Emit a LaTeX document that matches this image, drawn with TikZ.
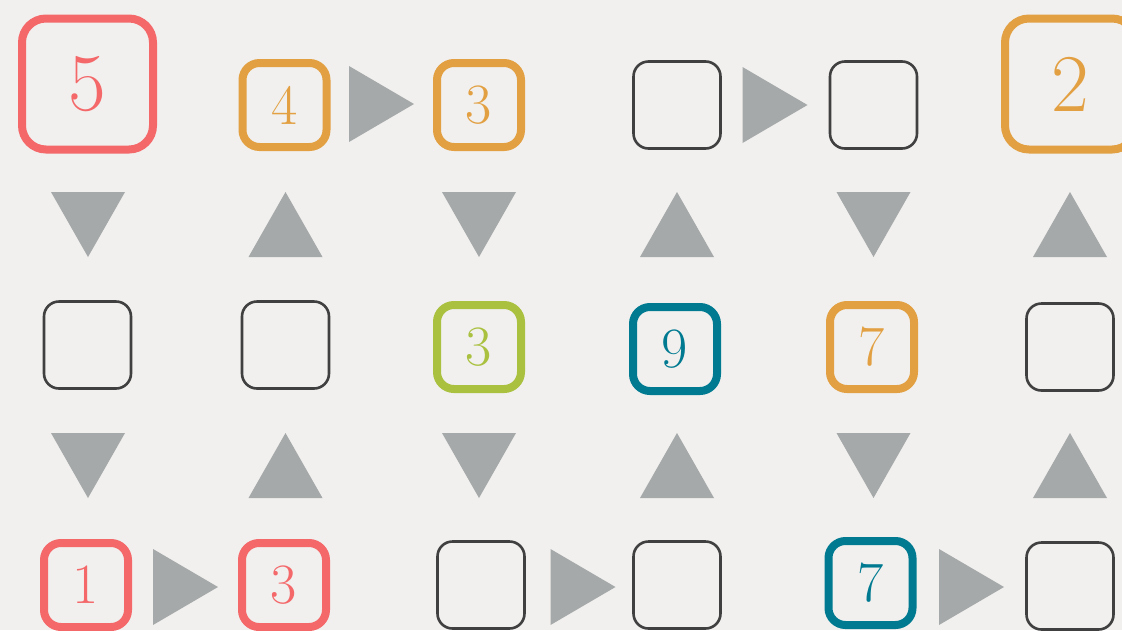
\documentclass[tikz,border=0pt]{standalone}
\definecolor{bg}{HTML}{F1F0EE}
\definecolor{cred}{HTML}{F4686A}
\definecolor{corange}{HTML}{E2A042}
\definecolor{cgreen}{HTML}{A9C13F}
\definecolor{cteal}{HTML}{007A91}
\definecolor{cgrey}{HTML}{A5A9A9}
\definecolor{cdark}{HTML}{404040}
\begin{document}
\begin{tikzpicture}[x=1pt,y=-1pt,
  numbox/.style={draw=#1, text=#1, rounded corners=17pt, line width=8pt,
    minimum size=84pt, inner sep=0pt, font=\fontsize{57}{57}\selectfont},
  bigbox/.style={numbox=#1, minimum size=131pt, rounded corners=24pt,
    font=\fontsize{82}{82}\selectfont},
  emptybox/.style={draw=cdark, rounded corners=15pt, line width=2.6pt,
    minimum size=87pt, inner sep=0pt},
  rtri/.pic={\fill[cgrey] (-32.5,-38) -- (32.5,0) -- (-32.5,38) -- cycle;},
  dtri/.pic={\fill[cgrey] (-37,-32.5) -- (37,-32.5) -- (0,32.5) -- cycle;},
  utri/.pic={\fill[cgrey] (-37,32.5) -- (37,32.5) -- (0,-32.5) -- cycle;}]
\fill[bg] (0,0) rectangle (1122,630);
\useasboundingbox (0,0) rectangle (1122,630);
% row 1
\node[bigbox=cred] (n5) at (87.5,84) {5};
\node[numbox=corange] (n4) at (284.5,105) {4};
\node[numbox=corange] (n3a) at (479,105) {3};
\node[emptybox] (e1) at (677,105) {};
\node[emptybox] (e2) at (873.5,105) {};
\node[bigbox=corange] (n2) at (1070.5,84) {2};
\pic at (381.5,104) {rtri};
\pic at (775,105) {rtri};
% row 2 triangles
\pic at (88,224.5) {dtri};
\pic at (285.5,224.5) {utri};
\pic at (479,224.5) {dtri};
\pic at (677,224.5) {utri};
\pic at (873.5,224.5) {dtri};
\pic at (1070,224.5) {utri};
% row 3
\node[emptybox] (e3) at (87.5,345) {};
\node[emptybox] (e4) at (285.5,345) {};
\node[numbox=cgreen] (g3) at (479,347) {3};
\node[numbox=cteal] (t9) at (675,349) {9};
\node[numbox=corange] (o7) at (872,347) {7};
\node[emptybox] (e5) at (1070,347) {};
% row 4 triangles
\pic at (88,465.5) {dtri};
\pic at (285.5,465.5) {utri};
\pic at (479,465.5) {dtri};
\pic at (677,465.5) {utri};
\pic at (873.5,465.5) {dtri};
\pic at (1070,465.5) {utri};
% row 5
\node[numbox=cred] (r1) at (86,585) {1};
\node[numbox=cred] (r3) at (284,585) {3};
\node[emptybox] (e6) at (481,585) {};
\node[emptybox] (e7) at (677,585) {};
\node[numbox=cteal] (t7) at (870.5,583) {7};
\node[emptybox] (e8) at (1070,586) {};
\pic at (185.5,587) {rtri};
\pic at (583,587) {rtri};
\pic at (971.5,587) {rtri};
\end{tikzpicture}
\end{document}
